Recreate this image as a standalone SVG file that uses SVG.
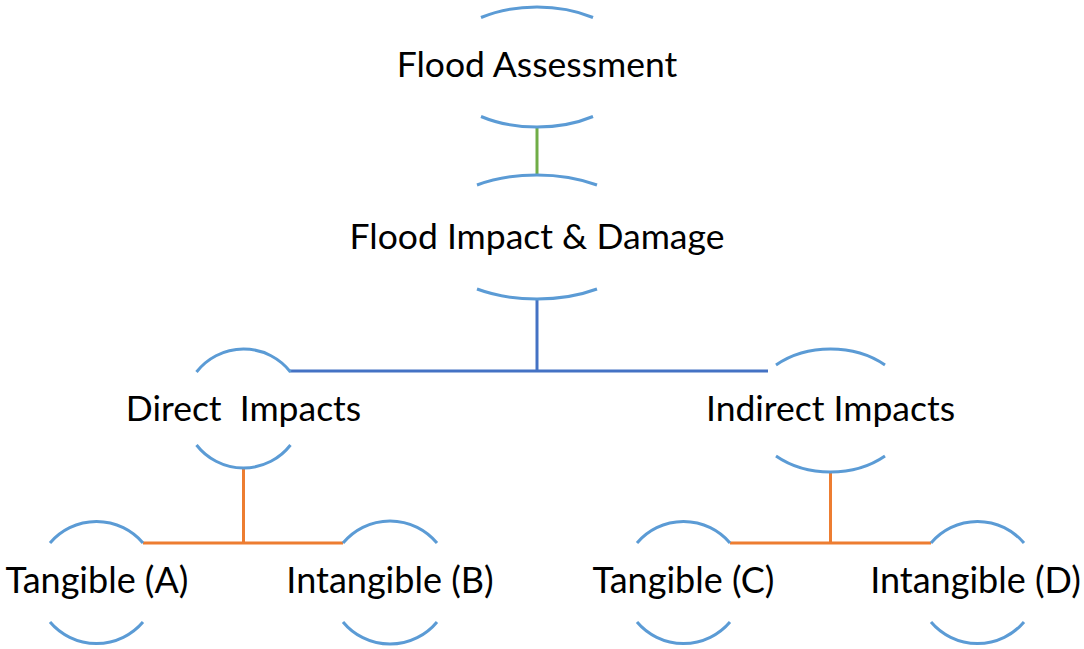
<svg xmlns="http://www.w3.org/2000/svg" width="1084" height="649" viewBox="0 0 1084 649">
<style>
.arc{fill:none;stroke:#5B9BD5;stroke-width:3}
.t{font-family:Lato,"Noto Sans",sans-serif;fill:#000;text-anchor:middle}
.big{font-size:35.5px}
.mid{font-size:35.5px}
.sm{font-size:36px}
.g{stroke:#70AD47;stroke-width:3;fill:none}
.b{stroke:#4472C4;stroke-width:3;fill:none}
.o{stroke:#ED7D31;stroke-width:3;fill:none}
</style>
<rect width="1084" height="649" fill="#fff"/>
<g id="connectors">
<line class="g" x1="537" y1="127" x2="537" y2="175"/>
<line class="b" x1="537" y1="299" x2="537" y2="371"/>
<line class="b" x1="290" y1="371" x2="768" y2="371"/>
<line class="o" x1="243.5" y1="468" x2="243.5" y2="543"/>
<line class="o" x1="143" y1="543" x2="343" y2="543"/>
<line class="o" x1="830.5" y1="472" x2="830.5" y2="543"/>
<line class="o" x1="730" y1="543" x2="931" y2="543"/>
</g>
<g id="flood-assessment">
<path class="arc" d="M481,17.5 A99,60 0 0 1 593,17.5"/>
<path class="arc" d="M481,116.5 A99,60 0 0 0 593,116.5"/>
<text class="t big" x="537" y="77">Flood Assessment</text>
</g>
<g id="flood-impact">
<path class="arc" d="M477,185 A110,62 0 0 1 597,185"/>
<path class="arc" d="M477,289 A110,62 0 0 0 597,289"/>
<text class="t big" x="537" y="249">Flood Impact &amp; Damage</text>
</g>
<g id="direct-impacts">
<path class="arc" d="M196.5,372 A59.5,59.5 0 0 1 290.5,372"/>
<path class="arc" d="M196.5,445 A59.5,59.5 0 0 0 290.5,445"/>
<text class="t mid" x="243.5" y="421" xml:space="preserve">Direct  Impacts</text>
</g>
<g id="indirect-impacts">
<path class="arc" d="M776,365 A81,61.5 0 0 1 885,365"/>
<path class="arc" d="M776,456 A81,61.5 0 0 0 885,456"/>
<text class="t mid" x="830.5" y="421">Indirect Impacts</text>
</g>
<g id="tangible-a">
<path class="arc" d="M50,543 A61,61 0 0 1 143,543"/>
<path class="arc" d="M50,622 A61,61 0 0 0 143,622"/>
<text class="t sm" x="97" y="593">Tangible (A)</text>
</g>
<g id="intangible-b">
<path class="arc" d="M343,543 A61,61 0 0 1 437,543"/>
<path class="arc" d="M343,622 A61,61 0 0 0 437,622"/>
<text class="t sm" x="390" y="593">Intangible (B)</text>
</g>
<g id="tangible-c">
<path class="arc" d="M637,543 A61,61 0 0 1 730,543"/>
<path class="arc" d="M637,622 A61,61 0 0 0 730,622"/>
<text class="t sm" x="683.5" y="593">Tangible (C)</text>
</g>
<g id="intangible-d">
<path class="arc" d="M931,543 A61,61 0 0 1 1024,543"/>
<path class="arc" d="M931,622 A61,61 0 0 0 1024,622"/>
<text class="t sm" x="975.5" y="593">Intangible (D)</text>
</g>
</svg>
